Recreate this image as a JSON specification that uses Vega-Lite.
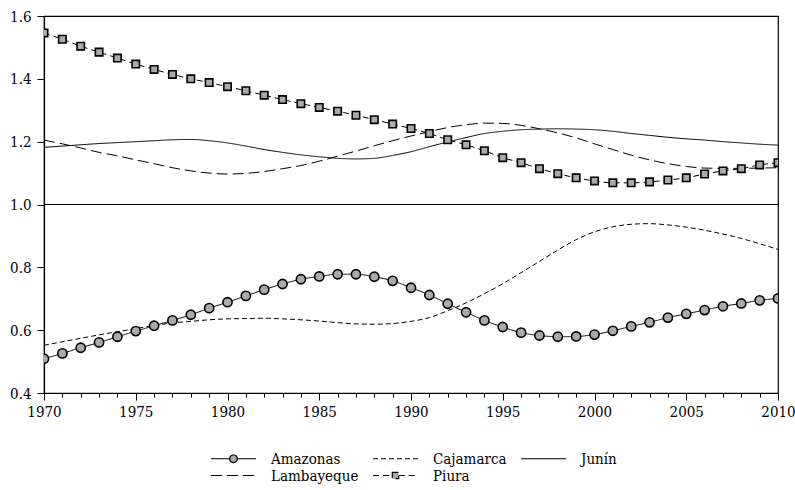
{
  "$schema": "https://vega.github.io/schema/vega-lite/v6.json",
  "width": 734,
  "height": 377,
  "autosize": "none",
  "padding": {"left": 44, "top": 16, "right": 17, "bottom": 97},
  "background": "white",
  "config": {
    "font": "DejaVu Serif Condensed",
    "view": {"stroke": "black", "strokeWidth": 1.2},
    "axis": {"grid": false, "domainColor": "black", "domainWidth": 1.2, "tickColor": "black", "labelColor": "black", "labelFont": "DejaVu Serif Condensed", "labelFontSize": 15, "title": null}
  },
  "data": {"values": [
    {"year":1970,"series":"Amazonas","value":0.509},{"year":1971,"series":"Amazonas","value":0.526},{"year":1972,"series":"Amazonas","value":0.544},{"year":1973,"series":"Amazonas","value":0.561},{"year":1974,"series":"Amazonas","value":0.579},{"year":1975,"series":"Amazonas","value":0.597},{"year":1976,"series":"Amazonas","value":0.614},{"year":1977,"series":"Amazonas","value":0.631},{"year":1978,"series":"Amazonas","value":0.649},{"year":1979,"series":"Amazonas","value":0.670},{"year":1980,"series":"Amazonas","value":0.689},{"year":1981,"series":"Amazonas","value":0.709},{"year":1982,"series":"Amazonas","value":0.729},{"year":1983,"series":"Amazonas","value":0.747},{"year":1984,"series":"Amazonas","value":0.762},{"year":1985,"series":"Amazonas","value":0.771},{"year":1986,"series":"Amazonas","value":0.778},{"year":1987,"series":"Amazonas","value":0.778},{"year":1988,"series":"Amazonas","value":0.770},{"year":1989,"series":"Amazonas","value":0.757},{"year":1990,"series":"Amazonas","value":0.735},{"year":1991,"series":"Amazonas","value":0.712},{"year":1992,"series":"Amazonas","value":0.684},{"year":1993,"series":"Amazonas","value":0.657},{"year":1994,"series":"Amazonas","value":0.631},{"year":1995,"series":"Amazonas","value":0.610},{"year":1996,"series":"Amazonas","value":0.592},{"year":1997,"series":"Amazonas","value":0.583},{"year":1998,"series":"Amazonas","value":0.579},{"year":1999,"series":"Amazonas","value":0.580},{"year":2000,"series":"Amazonas","value":0.586},{"year":2001,"series":"Amazonas","value":0.598},{"year":2002,"series":"Amazonas","value":0.612},{"year":2003,"series":"Amazonas","value":0.625},{"year":2004,"series":"Amazonas","value":0.640},{"year":2005,"series":"Amazonas","value":0.652},{"year":2006,"series":"Amazonas","value":0.664},{"year":2007,"series":"Amazonas","value":0.676},{"year":2008,"series":"Amazonas","value":0.685},{"year":2009,"series":"Amazonas","value":0.695},{"year":2010,"series":"Amazonas","value":0.701},
    {"year":1970,"series":"Cajamarca","value":0.552},{"year":1971,"series":"Cajamarca","value":0.563},{"year":1972,"series":"Cajamarca","value":0.574},{"year":1973,"series":"Cajamarca","value":0.585},{"year":1974,"series":"Cajamarca","value":0.595},{"year":1975,"series":"Cajamarca","value":0.605},{"year":1976,"series":"Cajamarca","value":0.615},{"year":1977,"series":"Cajamarca","value":0.623},{"year":1978,"series":"Cajamarca","value":0.628},{"year":1979,"series":"Cajamarca","value":0.633},{"year":1980,"series":"Cajamarca","value":0.636},{"year":1981,"series":"Cajamarca","value":0.637},{"year":1982,"series":"Cajamarca","value":0.638},{"year":1983,"series":"Cajamarca","value":0.636},{"year":1984,"series":"Cajamarca","value":0.633},{"year":1985,"series":"Cajamarca","value":0.629},{"year":1986,"series":"Cajamarca","value":0.624},{"year":1987,"series":"Cajamarca","value":0.620},{"year":1988,"series":"Cajamarca","value":0.619},{"year":1989,"series":"Cajamarca","value":0.621},{"year":1990,"series":"Cajamarca","value":0.628},{"year":1991,"series":"Cajamarca","value":0.640},{"year":1992,"series":"Cajamarca","value":0.662},{"year":1993,"series":"Cajamarca","value":0.687},{"year":1994,"series":"Cajamarca","value":0.716},{"year":1995,"series":"Cajamarca","value":0.748},{"year":1996,"series":"Cajamarca","value":0.783},{"year":1997,"series":"Cajamarca","value":0.819},{"year":1998,"series":"Cajamarca","value":0.855},{"year":1999,"series":"Cajamarca","value":0.888},{"year":2000,"series":"Cajamarca","value":0.913},{"year":2001,"series":"Cajamarca","value":0.929},{"year":2002,"series":"Cajamarca","value":0.937},{"year":2003,"series":"Cajamarca","value":0.939},{"year":2004,"series":"Cajamarca","value":0.935},{"year":2005,"series":"Cajamarca","value":0.928},{"year":2006,"series":"Cajamarca","value":0.918},{"year":2007,"series":"Cajamarca","value":0.906},{"year":2008,"series":"Cajamarca","value":0.892},{"year":2009,"series":"Cajamarca","value":0.875},{"year":2010,"series":"Cajamarca","value":0.857},
    {"year":1970,"series":"Junín","value":1.182},{"year":1971,"series":"Junín","value":1.186},{"year":1972,"series":"Junín","value":1.190},{"year":1973,"series":"Junín","value":1.194},{"year":1974,"series":"Junín","value":1.197},{"year":1975,"series":"Junín","value":1.200},{"year":1976,"series":"Junín","value":1.203},{"year":1977,"series":"Junín","value":1.206},{"year":1978,"series":"Junín","value":1.207},{"year":1979,"series":"Junín","value":1.203},{"year":1980,"series":"Junín","value":1.196},{"year":1981,"series":"Junín","value":1.186},{"year":1982,"series":"Junín","value":1.175},{"year":1983,"series":"Junín","value":1.166},{"year":1984,"series":"Junín","value":1.158},{"year":1985,"series":"Junín","value":1.152},{"year":1986,"series":"Junín","value":1.147},{"year":1987,"series":"Junín","value":1.145},{"year":1988,"series":"Junín","value":1.147},{"year":1989,"series":"Junín","value":1.156},{"year":1990,"series":"Junín","value":1.168},{"year":1991,"series":"Junín","value":1.184},{"year":1992,"series":"Junín","value":1.199},{"year":1993,"series":"Junín","value":1.213},{"year":1994,"series":"Junín","value":1.226},{"year":1995,"series":"Junín","value":1.233},{"year":1996,"series":"Junín","value":1.238},{"year":1997,"series":"Junín","value":1.240},{"year":1998,"series":"Junín","value":1.241},{"year":1999,"series":"Junín","value":1.240},{"year":2000,"series":"Junín","value":1.238},{"year":2001,"series":"Junín","value":1.233},{"year":2002,"series":"Junín","value":1.226},{"year":2003,"series":"Junín","value":1.220},{"year":2004,"series":"Junín","value":1.214},{"year":2005,"series":"Junín","value":1.209},{"year":2006,"series":"Junín","value":1.205},{"year":2007,"series":"Junín","value":1.200},{"year":2008,"series":"Junín","value":1.196},{"year":2009,"series":"Junín","value":1.192},{"year":2010,"series":"Junín","value":1.189},
    {"year":1970,"series":"Lambayeque","value":1.205},{"year":1971,"series":"Lambayeque","value":1.193},{"year":1972,"series":"Lambayeque","value":1.180},{"year":1973,"series":"Lambayeque","value":1.166},{"year":1974,"series":"Lambayeque","value":1.155},{"year":1975,"series":"Lambayeque","value":1.142},{"year":1976,"series":"Lambayeque","value":1.130},{"year":1977,"series":"Lambayeque","value":1.117},{"year":1978,"series":"Lambayeque","value":1.107},{"year":1979,"series":"Lambayeque","value":1.100},{"year":1980,"series":"Lambayeque","value":1.097},{"year":1981,"series":"Lambayeque","value":1.099},{"year":1982,"series":"Lambayeque","value":1.105},{"year":1983,"series":"Lambayeque","value":1.114},{"year":1984,"series":"Lambayeque","value":1.124},{"year":1985,"series":"Lambayeque","value":1.138},{"year":1986,"series":"Lambayeque","value":1.154},{"year":1987,"series":"Lambayeque","value":1.170},{"year":1988,"series":"Lambayeque","value":1.187},{"year":1989,"series":"Lambayeque","value":1.203},{"year":1990,"series":"Lambayeque","value":1.218},{"year":1991,"series":"Lambayeque","value":1.232},{"year":1992,"series":"Lambayeque","value":1.245},{"year":1993,"series":"Lambayeque","value":1.254},{"year":1994,"series":"Lambayeque","value":1.259},{"year":1995,"series":"Lambayeque","value":1.258},{"year":1996,"series":"Lambayeque","value":1.252},{"year":1997,"series":"Lambayeque","value":1.241},{"year":1998,"series":"Lambayeque","value":1.228},{"year":1999,"series":"Lambayeque","value":1.212},{"year":2000,"series":"Lambayeque","value":1.193},{"year":2001,"series":"Lambayeque","value":1.175},{"year":2002,"series":"Lambayeque","value":1.157},{"year":2003,"series":"Lambayeque","value":1.142},{"year":2004,"series":"Lambayeque","value":1.130},{"year":2005,"series":"Lambayeque","value":1.121},{"year":2006,"series":"Lambayeque","value":1.116},{"year":2007,"series":"Lambayeque","value":1.115},{"year":2008,"series":"Lambayeque","value":1.115},{"year":2009,"series":"Lambayeque","value":1.116},{"year":2010,"series":"Lambayeque","value":1.117},
    {"year":1970,"series":"Piura","value":1.546},{"year":1971,"series":"Piura","value":1.526},{"year":1972,"series":"Piura","value":1.504},{"year":1973,"series":"Piura","value":1.485},{"year":1974,"series":"Piura","value":1.466},{"year":1975,"series":"Piura","value":1.447},{"year":1976,"series":"Piura","value":1.430},{"year":1977,"series":"Piura","value":1.414},{"year":1978,"series":"Piura","value":1.400},{"year":1979,"series":"Piura","value":1.388},{"year":1980,"series":"Piura","value":1.375},{"year":1981,"series":"Piura","value":1.362},{"year":1982,"series":"Piura","value":1.348},{"year":1983,"series":"Piura","value":1.334},{"year":1984,"series":"Piura","value":1.321},{"year":1985,"series":"Piura","value":1.309},{"year":1986,"series":"Piura","value":1.297},{"year":1987,"series":"Piura","value":1.284},{"year":1988,"series":"Piura","value":1.270},{"year":1989,"series":"Piura","value":1.256},{"year":1990,"series":"Piura","value":1.242},{"year":1991,"series":"Piura","value":1.226},{"year":1992,"series":"Piura","value":1.206},{"year":1993,"series":"Piura","value":1.190},{"year":1994,"series":"Piura","value":1.171},{"year":1995,"series":"Piura","value":1.149},{"year":1996,"series":"Piura","value":1.133},{"year":1997,"series":"Piura","value":1.114},{"year":1998,"series":"Piura","value":1.098},{"year":1999,"series":"Piura","value":1.085},{"year":2000,"series":"Piura","value":1.075},{"year":2001,"series":"Piura","value":1.069},{"year":2002,"series":"Piura","value":1.069},{"year":2003,"series":"Piura","value":1.072},{"year":2004,"series":"Piura","value":1.078},{"year":2005,"series":"Piura","value":1.085},{"year":2006,"series":"Piura","value":1.097},{"year":2007,"series":"Piura","value":1.107},{"year":2008,"series":"Piura","value":1.114},{"year":2009,"series":"Piura","value":1.126},{"year":2010,"series":"Piura","value":1.133}
  ]},
  "encoding": {
    "x": {"field": "year", "type": "quantitative", "scale": {"domain": [1970, 2010], "nice": false, "zero": false},
      "axis": {"values": [1970,1971,1972,1973,1974,1975,1976,1977,1978,1979,1980,1981,1982,1983,1984,1985,1986,1987,1988,1989,1990,1991,1992,1993,1994,1995,1996,1997,1998,1999,2000,2001,2002,2003,2004,2005,2006,2007,2008,2009,2010],
        "labelExpr": "datum.value % 5 === 0 ? datum.value : ''", "labelOverlap": false, "labelFlush": false,
        "tickSize": {"condition": {"test": "datum.value % 5 === 0", "value": 7}, "value": 4},
        "labelPadding": 4}},
    "y": {"field": "value", "type": "quantitative", "scale": {"domain": [0.4, 1.6], "nice": false, "zero": false},
      "axis": {"values": [0.4, 0.6, 0.8, 1.0, 1.2, 1.4, 1.6], "format": ".1f", "tickSize": 7, "labelPadding": 6}}
  },
  "layer": [
    {"mark": {"type": "rule", "color": "black", "strokeWidth": 1.2}, "encoding": {"x": {"value": 0}, "x2": {"value": 734}, "y": {"datum": 1.0}}},
    {"mark": {"type": "line", "interpolate": "monotone", "color": "black", "strokeWidth": 1},
      "encoding": {
        "strokeDash": {"field": "series", "type": "nominal",
          "scale": {"domain": ["Amazonas", "Cajamarca", "Junín", "Lambayeque", "Piura"], "range": [[1, 0], [5, 3], [1, 0], [11, 5], [6, 4]]},
          "legend": {"orient": "none", "legendX": 182, "legendY": 435, "columns": 3, "direction": "horizontal", "title": null, "symbolSize": 16,
            "labelFontSize": 15, "labelFont": "DejaVu Serif Condensed", "labelColor": "black", "columnPadding": 11, "rowPadding": 1, "labelOffset": 30, "labelLimit": 0,
            "symbolStrokeWidth": 1,
            "encoding": {"symbols": {
              "shape": {"value": {"expr": "datum.value === 'Amazonas' ? 'M-11.25,0H-1.9M1.9,0H11.25M1.9,0A1.9,1.9,0,1,1,-1.9,0A1.9,1.9,0,1,1,1.9,0Z' : datum.value === 'Piura' ? 'M-11.25,0H-1.6M1.6,0H11.25M-1.6,-1.6H1.6V1.6H-1.6Z' : 'M-11.25,0H11.25'"}},
              "fill": {"value": "#aaaaaa"}, "fillOpacity": {"value": 1}, "stroke": {"value": "black"}, "strokeWidth": {"value": 1.2}}}}}
      }},
    {"transform": [{"filter": "datum.series === 'Amazonas'"}],
      "mark": {"type": "point", "shape": "circle", "filled": true, "fill": "#aaaaaa", "stroke": "black", "strokeWidth": 1.6, "size": 85, "opacity": 1, "clip": true}},
    {"transform": [{"filter": "datum.series === 'Piura'"}],
      "mark": {"type": "point", "shape": "square", "filled": true, "fill": "#aaaaaa", "stroke": "black", "strokeWidth": 1.6, "size": 55, "opacity": 1, "clip": true}}
  ]
}
